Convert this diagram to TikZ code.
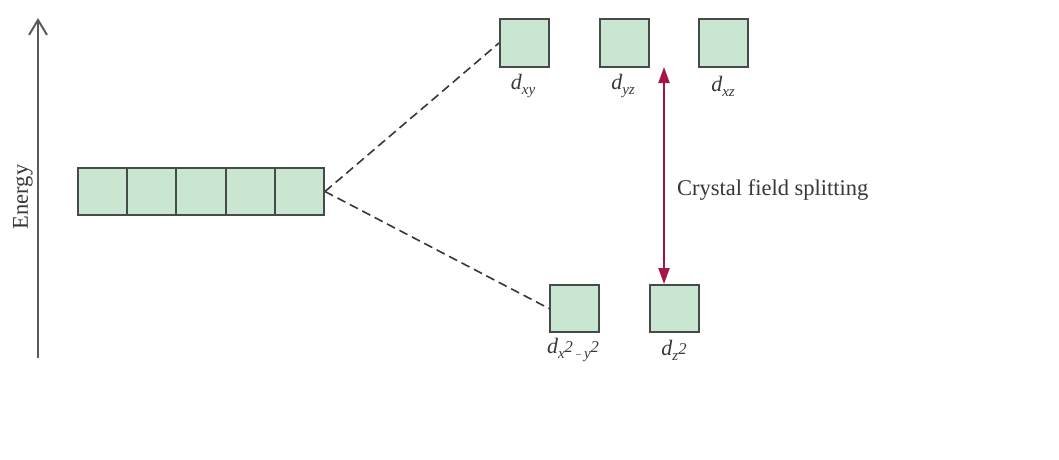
\documentclass[tikz,border=0pt]{standalone}
\usepackage{fontspec}
\setmainfont{Liberation Serif}
\usetikzlibrary{arrows.meta}
\definecolor{boxfill}{RGB}{200,230,208}
\definecolor{boxline}{RGB}{70,74,72}
\definecolor{axisgray}{RGB}{90,90,90}
\definecolor{cfsred}{RGB}{165,20,75}
\definecolor{txtgray}{RGB}{55,55,55}
\newcommand{\sub}[1]{\raisebox{-5pt}{\fontsize{15}{16}\selectfont #1}}
\newcommand{\supt}[1]{\raisebox{1pt}{\fontsize{16.5}{17}\selectfont #1}}
\begin{document}
\begin{tikzpicture}[x=1pt,y=-1pt,
  orb/.style={draw=boxline, fill=boxfill, line width=2pt, minimum width=49pt, minimum height=48pt, inner sep=0pt},
  orbrow/.style={orb, minimum width=49.2pt, minimum height=47pt},
  lbl/.style={text=txtgray, font=\fontsize{22}{25}\selectfont\itshape, inner sep=0pt},
  big/.style={text=txtgray, font=\fontsize{22.5}{26}\selectfont, inner sep=0pt},
  dash line/.style={draw=txtgray, line width=1.6pt, dash pattern=on 9pt off 5pt}
]
\useasboundingbox (0,0) rectangle (1059,459);

% energy axis
\coordinate (ebot) at (38,358);
\coordinate (etop) at (38,18);
\draw[axisgray, line width=2.4pt, -{Straight Barb[length=15pt,width=18pt,line width=2pt]}] (ebot) -- (etop);
\node[big, rotate=90] (energy) at (23,197) {Energy};

% dashed connectors
\coordinate (split) at (324,191.5);

% degenerate set
\node[orbrow] (b1) at (102.6,191.5) {};
\node[orbrow] (b2) at (151.8,191.5) {};
\node[orbrow] (b3) at (201.0,191.5) {};
\node[orbrow] (b4) at (250.2,191.5) {};
\node[orbrow] (b5) at (299.4,191.5) {};

% upper set
\node[orb] (dxy) at (524.5,43) {};
\node[orb] (dyz) at (624,43) {};
\node[orb] (dxz) at (723,43) {};
\node[lbl] (lxy) at (523,86) {d\sub{xy}};
\node[lbl] (lyz) at (623,86) {d\sub{yz}};
\node[lbl] (lxz) at (723,86) {d\sub{xz}};

% lower set
\node[orb, minimum height=47pt] (dx2) at (574.5,308.5) {};
\node[orb, minimum height=47pt] (dz2) at (674,308.5) {};
\node[lbl] (lx2) at (573,350) {d\sub{x}\supt{2}\sub{\fontsize{11}{12}\selectfont\,−\,}\sub{y}\supt{2}};
\node[lbl] (lz2) at (674,350) {d\sub{z}\supt{2}};

\draw[dash line] (b5.east) -- (dxy.west);
\draw[dash line] (b5.east) -- (dx2.west);

% crystal field splitting arrow
\coordinate (cfstop) at (664,67);
\draw[cfsred, line width=2pt, {Triangle[length=16pt,width=11pt]}-{Triangle[length=16pt,width=11pt]}] (cfstop) -- (cfstop |- dz2.north);
\node[big, anchor=west] (cfs) at (677,190) {Crystal field splitting};
\end{tikzpicture}
\end{document}
